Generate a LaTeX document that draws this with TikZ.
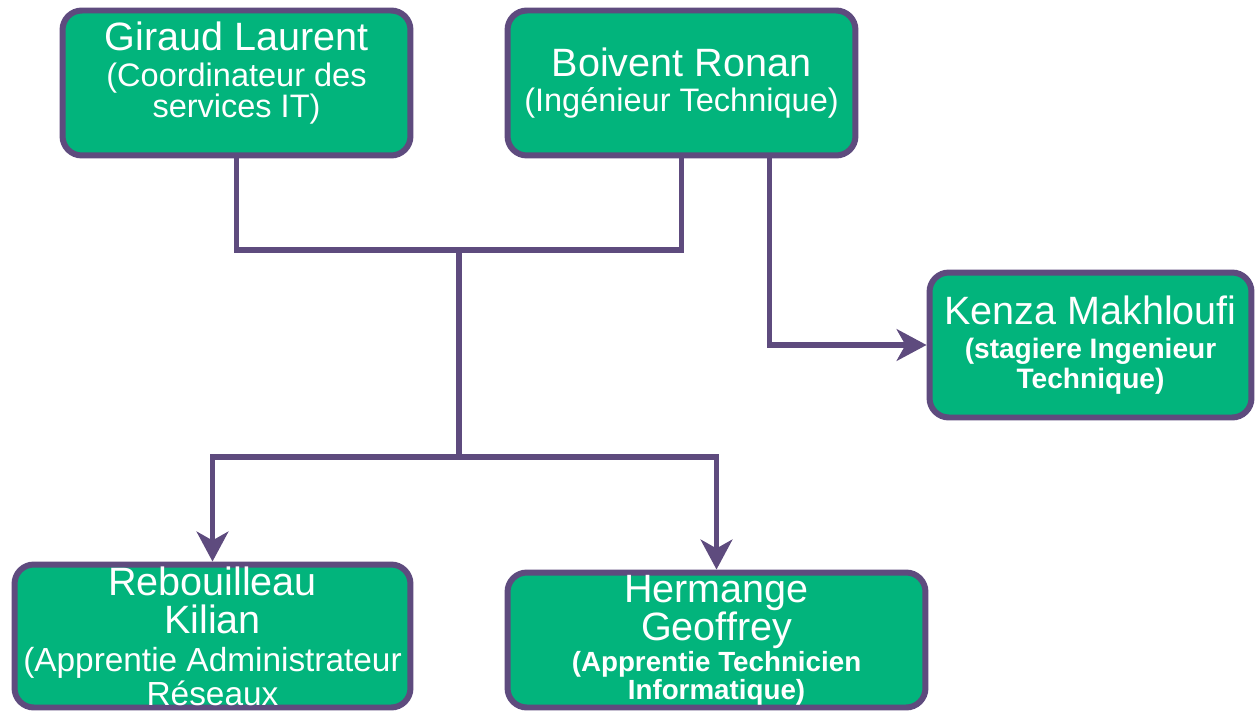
\documentclass[tikz,border=0pt]{standalone}
\usepackage{fontspec}
\setmainfont{Liberation Sans}
\usetikzlibrary{arrows.meta, positioning}
\definecolor{boxgreen}{RGB}{2,180,124}
\definecolor{linepurple}{RGB}{94,75,126}
\newcommand{\pname}[1]{{\mdseries\fontsize{22.5}{22.5}\selectfont #1}}

\begin{document}
\begin{tikzpicture}[x=0.02cm, y=-0.02cm,
    person/.style={draw=linepurple, fill=boxgreen, line width=3.4pt, rounded corners=11pt,
        text=white, align=center, inner sep=0pt, font=\fontsize{18.5}{17.5}\selectfont},
    link/.style={draw=linepurple, line width=3.2pt},
    linkarrow/.style={link, -{Stealth[length=17pt, width=18pt, inset=5pt]}}]
    \useasboundingbox (0,0) rectangle (1257,713);
    % people
    \node[person, minimum width=6.96cm, minimum height=2.9cm] (giraud) at (236.5,83)
        {\pname{Giraud Laurent}\\[3pt](Coordinateur des\\services IT)\\[-2pt]\mbox{}};
    \node[person, minimum width=6.96cm, minimum height=2.9cm] (boivent) at (681.5,83)
        {\pname{Boivent Ronan}\\[2.5pt](Ingénieur Technique)};
    \node[person, minimum width=6.44cm, minimum height=2.9cm,
        font=\bfseries\fontsize{16}{17}\selectfont] (kenza) at (1090.5,345)
        {\pname{Kenza Makhloufi}\\[2.3pt](stagiere Ingenieur\\Technique)\\[-14pt]\mbox{}};
    \node[person, minimum width=7.92cm, minimum height=2.86cm,
        font=\fontsize{19}{17}\selectfont] (rebouilleau) at (212.5,636)
        {\pname{Rebouilleau}\\[5pt]\pname{Kilian}\\[4.5pt](Apprentie Administrateur\\Réseaux};
    \node[person, minimum width=8.36cm, minimum height=2.7cm,
        font=\bfseries\fontsize{15.8}{22.5}\selectfont] (hermange) at (716.5,640)
        {\pname{Hermange}\\[-0.9pt]\pname{Geoffrey}\\[-4.8pt](Apprentie Technicien\\[-6.5pt]Informatique)};
    % connectors
    \coordinate (top) at (459,250);
    \coordinate (mid) at (459,457);
    \draw[link] (giraud.south) |- (top) -| (boivent.south);
    \draw[link] (top) -- (mid);
    \draw[linkarrow] (mid) -| (rebouilleau.north);
    \draw[linkarrow] (mid) -| (hermange.north);
    \draw[linkarrow] ([xshift=1.76cm]boivent.south) |- (kenza.west);
\end{tikzpicture}
\end{document}
